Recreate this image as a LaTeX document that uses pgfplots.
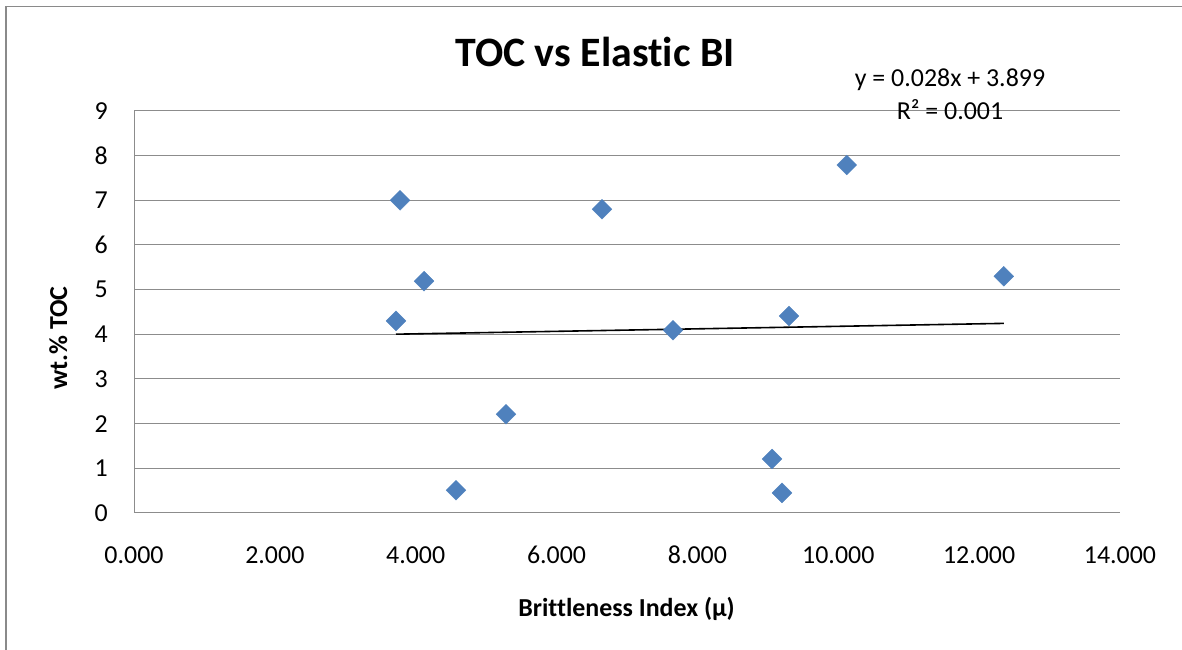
\documentclass[border=0pt]{standalone}
\usepackage{fontspec}
\setmainfont{Carlito}[Ligatures={NoCommon,NoRare,NoDiscretionary}]
\usepackage{pgfplots}
\pgfplotsset{compat=1.18}
\definecolor{gridgray}{HTML}{8C8C8C}
\definecolor{frame}{HTML}{8A8A8A}
\definecolor{mblue}{HTML}{4F81BD}
\begin{document}
\begin{tikzpicture}[x=1bp,y=1bp]
\path[use as bounding box] (0,0) rectangle (1182,650);
\draw[frame, line width=1.8bp] (6,0) -- (6,643.5) -- (1182,643.5);
\begin{axis}[
  at={(134bp,137bp)}, anchor=south west,
  scale only axis, width=986bp, height=402bp,
  xmin=0, xmax=14, ymin=0, ymax=9,
  xtick={0,2,...,14}, ytick={0,1,...,9},
  ymajorgrids,
  grid style={gridgray, line width=1bp},
  axis x line*=bottom, axis y line*=left,
  axis line style={gridgray, line width=1bp, -},
  major tick length=0pt,
  /pgf/number format/assume math mode=true,
  tick label style={font=\fontsize{26}{30}\selectfont, black},
  xticklabel style={anchor=base, yshift=-51bp, inner sep=0pt,
    /pgf/number format/.cd, fixed, fixed zerofill, precision=3},
  yticklabel style={anchor=east, xshift=-26bp, inner sep=0pt},
  clip=false,
]
\addplot[only marks, mark=square*, mark size=7bp,
  mark options={rotate=45, fill=mblue, draw=mblue}]
  coordinates {
  (3.777,7.00) (3.720,4.30) (4.118,5.19) (4.572,0.51)
  (5.282,2.21) (6.645,6.80) (7.653,4.09) (9.059,1.21)
  (9.201,0.45) (9.300,4.41) (10.120,7.79) (12.350,5.30)
  };
\addplot[black, line width=1.6bp] coordinates {(3.720,4.003) (12.350,4.245)};
\end{axis}
\node[anchor=base, inner sep=0pt, font=\fontsize{42}{50}\selectfont\bfseries] at (595,583) {TOC vs Elastic BI};
\node[anchor=base, inner sep=0pt, font=\fontsize{26}{30}\selectfont\bfseries] at (626.5,33) {Brittleness Index (μ)};
\node[anchor=base, inner sep=0pt, rotate=90, font=\fontsize{26}{30}\selectfont\bfseries] at (67,312) {wt.\% TOC};
\node[anchor=base, inner sep=0pt, font=\fontsize{26}{30}\selectfont] at (950,563) {y = 0.028x + 3.899};
\node[anchor=base, inner sep=0pt, font=\fontsize{26}{30}\selectfont] at (950,530) {R² = 0.001};
\end{tikzpicture}
\end{document}
